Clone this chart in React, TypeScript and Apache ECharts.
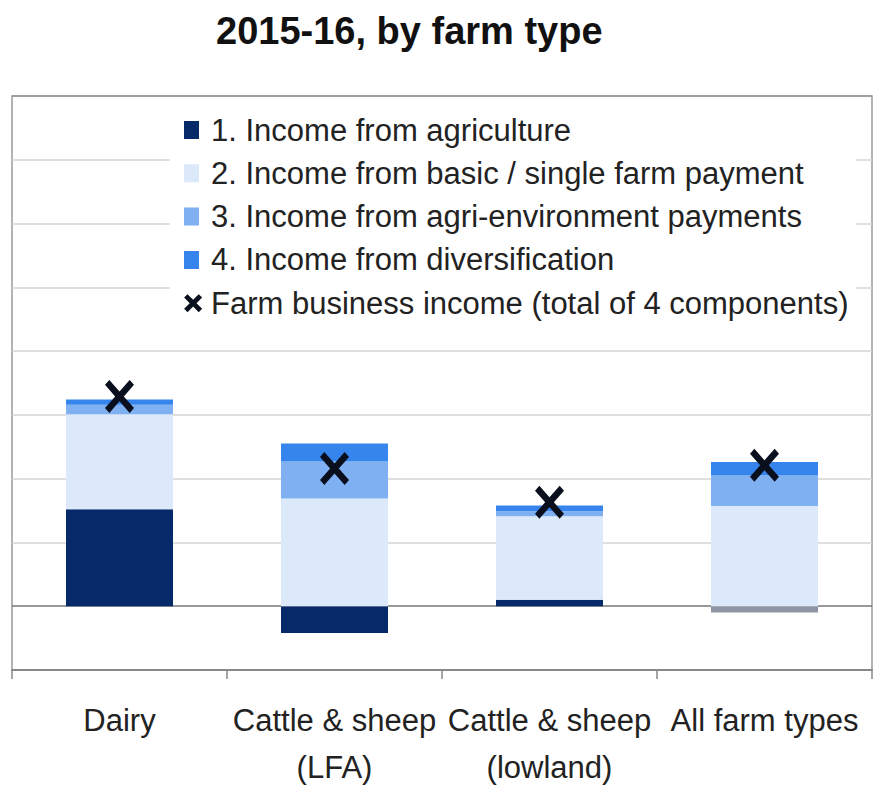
import React, { useEffect, useRef } from "react";
import * as echarts from "echarts";

const categories = ["Dairy", "Cattle & sheep\n(LFA)", "Cattle & sheep\n(lowland)", "All farm types"];
const seriesNames = [
  "1. Income from agriculture",
  "2. Income from basic / single farm payment",
  "3. Income from agri-environment payments",
  "4. Income from diversification",
  "Farm business income (total of 4 components)",
];
const agriculture = [1.52, -0.42, 0.1, -0.1];
const basicPayment = [1.49, 1.69, 1.31, 1.57];
const agriEnvironment = [0.15, 0.58, 0.08, 0.48];
const diversification = [0.08, 0.28, 0.09, 0.21];
const farmBusinessIncome = [3.29, 2.16, 1.63, 2.21];

const FONT = "'Liberation Sans', Arial, sans-serif";
const X_PATH = "path://M0,3.6L3.6,0L12,8.4L20.4,0L24,3.6L15.6,12L24,20.4L20.4,24L12,15.6L3.6,24L0,20.4L8.4,12Z";
const X_ICON = "path://M0,4.5L4.5,0L12,7.5L19.5,0L24,4.5L16.5,12L24,19.5L19.5,24L12,16.5L4.5,24L0,19.5L7.5,12Z M29,12h0.01v0.01h-0.01Z";
const SQ_ICON = "path://M0,0H15V18H0Z M22,9h0.01v0.01h-0.01Z";

const colors = ["#06296a", "#dce9fb", "#7fb0f1", "#3585ec"];

export default function App() {
  const ref = useRef<HTMLDivElement>(null);
  useEffect(() => {
    if (!ref.current) return;
    const chart = echarts.init(ref.current, undefined, { renderer: "svg" });
    const values = [agriculture, basicPayment, agriEnvironment, diversification];
    const barSeries = values.map((d, i) => ({
      name: seriesNames[i],
      type: "bar",
      stack: "total",
      barWidth: 107,
      data: d,
      itemStyle: {
        color:
          i === 0
            ? (p: any) => (p.dataIndex === 3 ? "#8e96a6" : colors[0])
            : colors[i],
      },
    }));
    const splitColors = ["#999", "#777", "#d4d4d4", "#d4d4d4", "#d4d4d4", "#d4d4d4", "#d4d4d4", "#d4d4d4", "#d4d4d4", "#999"];
    chart.setOption({
      animation: false,
      backgroundColor: "#fff",
      title: {
        text: "2015-16, by farm type",
        left: 211,
        top: 7,
        textStyle: { fontSize: 38, fontWeight: "bold", color: "#111", fontFamily: FONT },
      },
      legend: {
        orient: "vertical",
        left: 170,
        top: 104,
        backgroundColor: "#fff",
        padding: [8, 8, 8, 14],
        itemGap: 7.3,
        itemWidth: 22,
        itemHeight: 18,
        selectedMode: false,
        textStyle: { fontSize: 31, color: "#222", fontFamily: FONT, lineHeight: 36 },
        data: [
          ...colors.map((c, i) => ({ name: seriesNames[i], icon: SQ_ICON, itemStyle: { color: c } })),
          { name: seriesNames[4], icon: X_ICON, itemStyle: { color: "#0a0f1e", opacity: 1 } },
        ],
      },
      grid: {
        left: 12,
        right: 12,
        top: 96,
        bottom: 116,
        show: true,
        borderColor: "#999",
        borderWidth: 1.5,
        outerBoundsMode: "none",
        containLabel: false,
      },
      xAxis: {
        type: "category",
        data: categories,
        position: "bottom",
        axisLine: { onZero: false, lineStyle: { color: "#888", width: 2 } },
        axisTick: { show: true, length: 9, lineStyle: { color: "#888", width: 1.5 } },
        axisLabel: {
          fontSize: 31,
          lineHeight: 47,
          margin: 27,
          color: "#222",
          fontFamily: FONT,
          interval: 0,
        },
      },
      yAxis: {
        type: "value",
        min: -1,
        max: 8,
        interval: 1,
        axisLabel: { show: false },
        axisLine: { show: false },
        axisTick: { show: false },
        splitLine: { show: true, lineStyle: { color: splitColors, width: 1.5 } },
      },
      series: [
        ...barSeries,
        {
          name: seriesNames[4],
          type: "scatter",
          data: farmBusinessIncome,
          symbol: X_PATH,
          symbolSize: [29, 33],
          itemStyle: { color: "#0a0f1e", opacity: 1 },
          z: 5,
        },
      ],
    });
    return () => chart.dispose();
  }, []);
  return (
    <div
      ref={ref}
      style={{ position: "fixed", left: 0, top: 0, width: 884, height: 786 }}
    />
  );
}
